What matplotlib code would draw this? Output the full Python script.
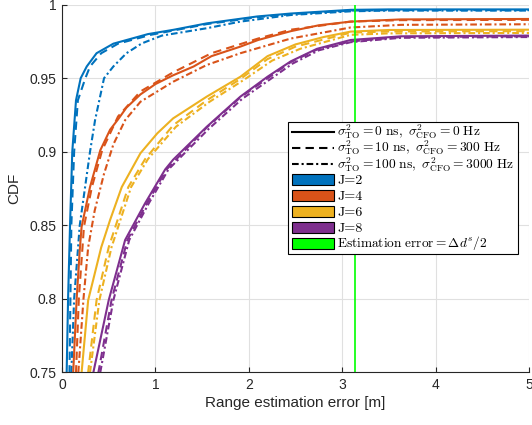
import matplotlib
matplotlib.use("Agg")
import matplotlib.pyplot as plt
from matplotlib.lines import Line2D
from matplotlib.patches import Rectangle
from matplotlib.transforms import Affine2D

plt.rcParams['font.family'] = ['Liberation Sans', 'DejaVu Sans']
plt.rcParams['mathtext.fontset'] = 'cm'

# ---------------- data ----------------
j2_solid_x = [0.045, 0.05, 0.065, 0.086, 0.11, 0.15, 0.20, 0.265, 0.37, 0.55, 0.92, 1.2, 1.55, 2.09, 2.45, 3.09, 3.5, 5.0]
j2_solid_y = [0.74, 0.75, 0.80, 0.85, 0.90, 0.935, 0.95, 0.958, 0.967, 0.9735, 0.980, 0.983, 0.9873, 0.992, 0.994, 0.9965, 0.9968, 0.9968]
j2_dash_x = [0.07, 0.08, 0.09, 0.10, 0.13, 0.17, 0.25, 0.30, 0.42, 0.6, 0.95, 1.55, 2.09, 2.45, 3.09, 3.5, 5.0]
j2_dash_y = [0.74, 0.75, 0.80, 0.85, 0.90, 0.935, 0.95, 0.958, 0.967, 0.9735, 0.9795, 0.9868, 0.9915, 0.9935, 0.996, 0.9963, 0.9963]
j2_dd_x = [0.09, 0.10, 0.13, 0.19, 0.30, 0.354, 0.45, 0.55, 0.69, 0.855, 1.07, 1.55, 1.91, 2.45, 3.09, 3.5, 5.0]
j2_dd_y = [0.74, 0.75, 0.80, 0.85, 0.90, 0.9215, 0.95, 0.958, 0.967, 0.9737, 0.979, 0.984, 0.9885, 0.993, 0.9955, 0.996, 0.996]

j4_solid_x = [0.11, 0.12, 0.157, 0.19, 0.21, 0.30, 0.41, 0.515, 0.60, 0.69, 0.84, 1.0, 1.19, 1.41, 1.6, 1.91, 2.1, 2.45, 2.75, 3.09, 3.63, 5.0]
j4_solid_y = [0.74, 0.75, 0.80, 0.833, 0.849, 0.876, 0.901, 0.915, 0.922, 0.93, 0.939, 0.946, 0.952, 0.958, 0.965, 0.9715, 0.976, 0.982, 0.986, 0.9885, 0.990, 0.9903]
j4_dash_x = [0.14, 0.15, 0.18, 0.235, 0.32, 0.43, 0.60, 0.84, 1.19, 1.6, 2.1, 2.45, 3.09, 3.63, 5.0]
j4_dash_y = [0.74, 0.75, 0.80, 0.849, 0.876, 0.901, 0.924, 0.941, 0.954, 0.967, 0.977, 0.983, 0.9885, 0.9895, 0.9897]
j4_dd_x = [0.165, 0.175, 0.23, 0.28, 0.35, 0.45, 0.55, 0.676, 0.84, 1.19, 1.55, 1.91, 2.45, 3.09, 3.63, 5.0]
j4_dd_y = [0.74, 0.75, 0.80, 0.835, 0.86, 0.885, 0.905, 0.9215, 0.934, 0.9476, 0.959, 0.967, 0.977, 0.9845, 0.9863, 0.9867]

j6_solid_x = [0.20, 0.21, 0.28, 0.42, 0.515, 0.64, 0.84, 1.02, 1.19, 1.55, 1.91, 2.2, 2.5, 2.8, 3.09, 3.5, 5.0]
j6_solid_y = [0.74, 0.75, 0.799, 0.835, 0.8536, 0.876, 0.899, 0.9125, 0.9227, 0.9375, 0.951, 0.965, 0.973, 0.978, 0.9817, 0.9828, 0.983]
j6_dash_x = [0.27, 0.28, 0.37, 0.50, 0.71, 0.89, 1.19, 1.55, 1.91, 2.2, 2.5, 3.09, 3.5, 5.0]
j6_dash_y = [0.74, 0.75, 0.799, 0.835, 0.876, 0.895, 0.918, 0.935, 0.9495, 0.963, 0.9715, 0.981, 0.9818, 0.982]
j6_dd_x = [0.29, 0.30, 0.40, 0.53, 0.74, 0.92, 1.22, 1.58, 1.95, 2.25, 2.55, 3.09, 3.5, 5.0]
j6_dd_y = [0.74, 0.75, 0.799, 0.835, 0.876, 0.895, 0.917, 0.934, 0.949, 0.962, 0.970, 0.9795, 0.9805, 0.9808]

j8_solid_x = [0.325, 0.336, 0.50, 0.676, 0.89, 1.105, 1.19, 1.55, 1.91, 2.2, 2.45, 2.73, 3.09, 3.63, 5.0]
j8_solid_y = [0.74, 0.75, 0.799, 0.84, 0.865, 0.888, 0.8946, 0.917, 0.9375, 0.951, 0.9615, 0.970, 0.976, 0.9785, 0.979]
j8_dash_x = [0.38, 0.39, 0.53, 0.70, 0.91, 1.12, 1.55, 1.91, 2.45, 2.73, 3.09, 3.63, 5.0]
j8_dash_y = [0.74, 0.75, 0.799, 0.84, 0.865, 0.888, 0.9165, 0.937, 0.961, 0.9695, 0.975, 0.978, 0.9785]
j8_dd_x = [0.40, 0.41, 0.55, 0.72, 0.93, 1.14, 1.57, 1.93, 2.47, 2.75, 3.09, 3.63, 5.0]
j8_dd_y = [0.74, 0.75, 0.799, 0.84, 0.865, 0.888, 0.9155, 0.936, 0.96, 0.969, 0.9745, 0.9775, 0.978]

threshold_x = 3.14

curve_names = ['J=2', 'J=4', 'J=6', 'J=8']
curves = {
    'J=2': [(j2_solid_x, j2_solid_y), (j2_dash_x, j2_dash_y), (j2_dd_x, j2_dd_y)],
    'J=4': [(j4_solid_x, j4_solid_y), (j4_dash_x, j4_dash_y), (j4_dd_x, j4_dd_y)],
    'J=6': [(j6_solid_x, j6_solid_y), (j6_dash_x, j6_dash_y), (j6_dd_x, j6_dd_y)],
    'J=8': [(j8_solid_x, j8_solid_y), (j8_dash_x, j8_dash_y), (j8_dd_x, j8_dd_y)],
}
colors = {'J=2': '#0072BD', 'J=4': '#D95319', 'J=6': '#EDB120', 'J=8': '#7E2F8E'}
green = '#00FF00'
styles = ['-', (0, (4.0, 2.5)), (0, (3.2, 1.4, 1.0, 1.4))]

style_labels = [
    r'$\sigma_{\mathrm{TO}}^2 = 0\ \mathrm{ns},\ \sigma_{\mathrm{CFO}}^2 = 0\ \mathrm{Hz}$',
    r'$\sigma_{\mathrm{TO}}^2 = 10\ \mathrm{ns},\ \sigma_{\mathrm{CFO}}^2 = 300\ \mathrm{Hz}$',
    r'$\sigma_{\mathrm{TO}}^2 = 100\ \mathrm{ns},\ \sigma_{\mathrm{CFO}}^2 = 3000\ \mathrm{Hz}$',
]
threshold_label = r'$\mathrm{Estimation\ error} = \Delta d^s/2$'

# ---------------- figure ----------------
W, H = 532, 425
fig = plt.figure(figsize=(W / 100, H / 100), dpi=100)
ax = fig.add_axes([62 / W, (H - 372.3) / H, (529 - 62) / W, (372.3 - 4.7) / H])

for name in curve_names:
    for (xs, ys), ls in zip(curves[name], styles):
        ax.plot(xs, ys, color=colors[name], linestyle=ls, linewidth=1.5)

ax.axvline(threshold_x, color=green, linewidth=1.2)

ax.set_xlim(0, 5)
ax.set_ylim(0.75, 1.0)
ax.set_xticks([0, 1, 2, 3, 4, 5])
ax.set_yticks([0.75, 0.8, 0.85, 0.9, 0.95, 1.0])
ax.set_yticklabels(['0.75', '0.8', '0.85', '0.9', '0.95', '1'])
ax.grid(True, color='#e0e0e0', linewidth=0.8)
ax.set_axisbelow(True)
for s in ['top', 'right']:
    ax.spines[s].set_visible(False)
for s in ['left', 'bottom']:
    ax.spines[s].set_color('#262626')
    ax.spines[s].set_linewidth(0.8)
ax.tick_params(direction='in', length=3.5, width=0.8, color='#262626',
               labelcolor='#262626', labelsize=10, pad=4)
ax.set_xlabel('Range estimation error [m]', fontsize=11, color='#262626', labelpad=3)
ax.set_ylabel('CDF', fontsize=11, color='#262626', labelpad=6)

# ---------------- legend (drawn manually, pixel coordinates from top-left) ----------------
px = Affine2D().scale(1 / W, -1 / H).translate(0, 1) + fig.transFigure
box_l, box_t, box_r, box_b = 288, 122, 518, 254
fig.patches.append(Rectangle((box_l, box_t), box_r - box_l, box_b - box_t, transform=px,
                             facecolor='white', edgecolor='black', linewidth=0.8, zorder=5))
row_y = [131.7, 148.0, 164.3, 180.0, 196.0, 211.7, 227.7, 243.3]
h_l, h_r, text_x = 292, 334, 337.0
leg_fs = 9.4
for i, ls in enumerate(styles):
    fig.lines.append(Line2D([h_l, h_r], [row_y[i], row_y[i]], transform=px, color='black',
                            linestyle=ls, linewidth=1.5, zorder=6))
    fig.text(text_x, row_y[i] + 4, style_labels[i], transform=px, fontsize=9.7,
             va='baseline', ha='left', zorder=6)
patch_items = [(colors[n], n) for n in curve_names] + [(green, threshold_label)]
for k, (c, label) in enumerate(patch_items):
    yc = row_y[3 + k]
    fig.patches.append(Rectangle((h_l, yc - 5.5), h_r - h_l, 11, transform=px, facecolor=c,
                                 edgecolor='black', linewidth=0.8, zorder=6))
    if label.startswith('$'):
        fig.text(text_x, yc + 4, label, transform=px, fontsize=leg_fs + 0.2,
                 va='baseline', ha='left', zorder=6)
    else:
        fig.text(text_x, yc + 4, label, transform=px, fontsize=leg_fs + 0.8, family='cmr10',
                 va='baseline', ha='left', zorder=6)

fig.savefig('out.png', dpi=100)
